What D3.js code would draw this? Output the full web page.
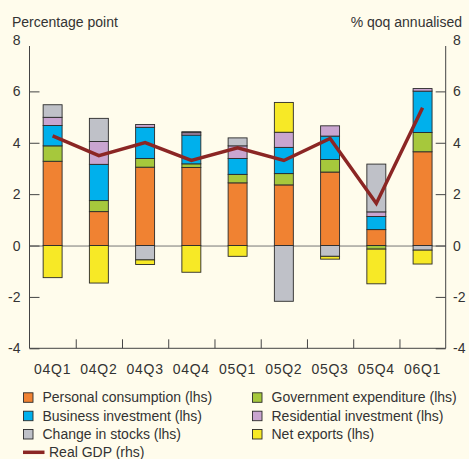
<!DOCTYPE html>
<html><head><meta charset="utf-8">
<script src="https://cdn.jsdelivr.net/npm/d3@7"></script>
<style>
html,body{margin:0;padding:0;background:#fffcec;}
svg{display:block;font-family:"Liberation Sans",Arial,Helvetica,sans-serif;}
</style></head><body>
<svg id="c" width="469" height="459"></svg>
<script>
const categories = ["04Q1","04Q2","04Q3","04Q4","05Q1","05Q2","05Q3","05Q4","06Q1"];
const personalConsumption = [3.28,1.32,3.05,3.04,2.44,2.36,2.86,0.62,3.65];
const governmentExpenditure = [0.60,0.43,0.34,0.14,0.33,0.44,0.49,-0.14,0.75];
const businessInvestment = [0.79,1.41,1.21,1.12,0.62,1.02,0.91,0.51,1.61];
const residentialInvestment = [0.32,0.89,0.11,0.09,0.49,0.59,0.40,0.18,0.10];
const changeInStocks = [0.49,0.90,-0.56,0.04,0.31,-2.17,-0.42,1.86,-0.18];
const netExports = [-1.25,-1.46,-0.18,-1.04,-0.42,1.16,-0.11,-1.35,-0.54];
const realGDP = [4.27,3.50,4.01,3.31,3.80,3.31,4.17,1.64,5.36];
const yTicks = [-4,-2,0,2,4,6,8];

const seriesNames = ["Personal consumption (lhs)","Government expenditure (lhs)","Business investment (lhs)","Residential investment (lhs)","Change in stocks (lhs)","Net exports (lhs)"];
const seriesData = [personalConsumption,governmentExpenditure,businessInvestment,residentialInvestment,changeInStocks,netExports];
const colors = ["#f08232","#a6c83c","#00b0ec","#c9a5d0","#bfc1c8","#f7e926"];

const svg = d3.select("#c");
const L = 29.5, R = 445.7;
const x = d3.scaleBand().domain(categories).range([L,R]).padding(0);
const y = d3.scaleLinear().domain([-4,8]).range([348.3,40]);
const yR = d3.scaleLinear().domain([-4,8]).range([348.3,40]);
const axisCol = "#444";
const textCol = "#333";

const table = categories.map((c,i)=>{const o={cat:c}; seriesNames.forEach((s,j)=>o[s]=seriesData[j][i]); return o;});
const stack = d3.stack().keys(seriesNames).offset(d3.stackOffsetDiverging);
const stacked = stack(table);

// zero line
svg.append("line").attr("x1",L).attr("x2",R).attr("y1",y(0)+0.5).attr("y2",y(0)+0.5)
  .attr("stroke","#777").attr("stroke-width",1);

const bw = x.bandwidth()*0.41;
stacked.forEach((layer,j)=>{
  svg.append("g").selectAll("rect").data(layer).join("rect")
    .attr("x",d=>x(d.data.cat)+(x.bandwidth()-bw)/2)
    .attr("y",d=>y(Math.max(d[0],d[1])))
    .attr("width",bw)
    .attr("height",d=>Math.abs(y(d[0])-y(d[1])))
    .attr("fill",colors[j]).attr("stroke","#2a2a2a").attr("stroke-width",0.9);
});

// GDP line
const line = d3.line().x((d,i)=>x(categories[i])+x.bandwidth()/2).y(d=>yR(d));
svg.append("path").datum(realGDP).attr("d",line).attr("fill","none")
  .attr("stroke","#8b2624").attr("stroke-width",3.5).attr("stroke-linejoin","miter");

// axes (inner ticks, none at the top value)
const innerTicks = yTicks.filter(d=>d<8);
const gL = svg.append("g").attr("transform",`translate(${L},0)`)
  .call(d3.axisRight(y).tickValues(innerTicks).tickSize(10).tickFormat(""));
gL.select(".domain").remove();
gL.selectAll(".tick line").attr("stroke",axisCol);
svg.append("line").attr("x1",L).attr("x2",L).attr("y1",46).attr("y2",348.3).attr("stroke",axisCol);
const gR = svg.append("g").attr("transform",`translate(${R},0)`)
  .call(d3.axisLeft(yR).tickValues(innerTicks).tickSize(10).tickFormat(""));
gR.select(".domain").remove();
gR.selectAll(".tick line").attr("stroke",axisCol);
svg.append("line").attr("x1",R).attr("x2",R).attr("y1",46).attr("y2",348.3).attr("stroke",axisCol);

svg.append("g").selectAll("text").data(yTicks).join("text")
  .attr("x",20.5).attr("y",d=>y(d)+5).attr("text-anchor","end")
  .attr("font-size",14).attr("fill",textCol).text(d=>d);
svg.append("g").selectAll("text").data(yTicks).join("text")
  .attr("x",453).attr("y",d=>yR(d)+5).attr("text-anchor","start")
  .attr("font-size",14).attr("fill",textCol).text(d=>d);

// bottom axis
const xb = d3.scaleLinear().domain([0,categories.length]).range([L,R]);
const gB = svg.append("g").attr("transform","translate(0,348.3)")
  .call(d3.axisTop(xb).tickValues(d3.range(1,categories.length)).tickSize(9).tickFormat(""));
gB.select(".domain").remove();
gB.selectAll(".tick line").attr("stroke",axisCol);
svg.append("line").attr("x1",L).attr("x2",R).attr("y1",348.3).attr("y2",348.3).attr("stroke",axisCol);

svg.append("g").selectAll("text").data(categories).join("text")
  .attr("x",d=>x(d)+x.bandwidth()/2).attr("y",374).attr("text-anchor","middle")
  .attr("font-size",14).attr("letter-spacing","0.7").attr("fill",textCol).text(d=>d);

// titles
svg.append("text").attr("x",12).attr("y",27).attr("font-size",14).attr("fill",textCol).text("Percentage point");
svg.append("text").attr("x",462).attr("y",27).attr("text-anchor","end").attr("font-size",14).attr("fill",textCol).text("% qoq annualised");

// legend
const legendOrder = [[0,23,397.3],[1,252,397.3],[2,23,415.7],[3,252,415.7],[4,23,434],[5,252,434]];
legendOrder.forEach(([j,lx,ly])=>{
  svg.append("rect").attr("x",lx+0.5).attr("y",ly-4.5).attr("width",9.5).attr("height",9.5)
    .attr("fill",colors[j]).attr("stroke","#2a2a2a").attr("stroke-width",0.9);
  svg.append("text").attr("x",lx+19.5).attr("y",ly+5).attr("font-size",14).attr("fill",textCol).text(seriesNames[j]);
});
svg.append("line").attr("x1",23).attr("x2",44.5).attr("y1",452.3).attr("y2",452.3)
  .attr("stroke","#8b2624").attr("stroke-width",3.5);
svg.append("text").attr("x",49).attr("y",457.3).attr("font-size",14).attr("fill",textCol).text("Real GDP (rhs)");
</script></body></html>
